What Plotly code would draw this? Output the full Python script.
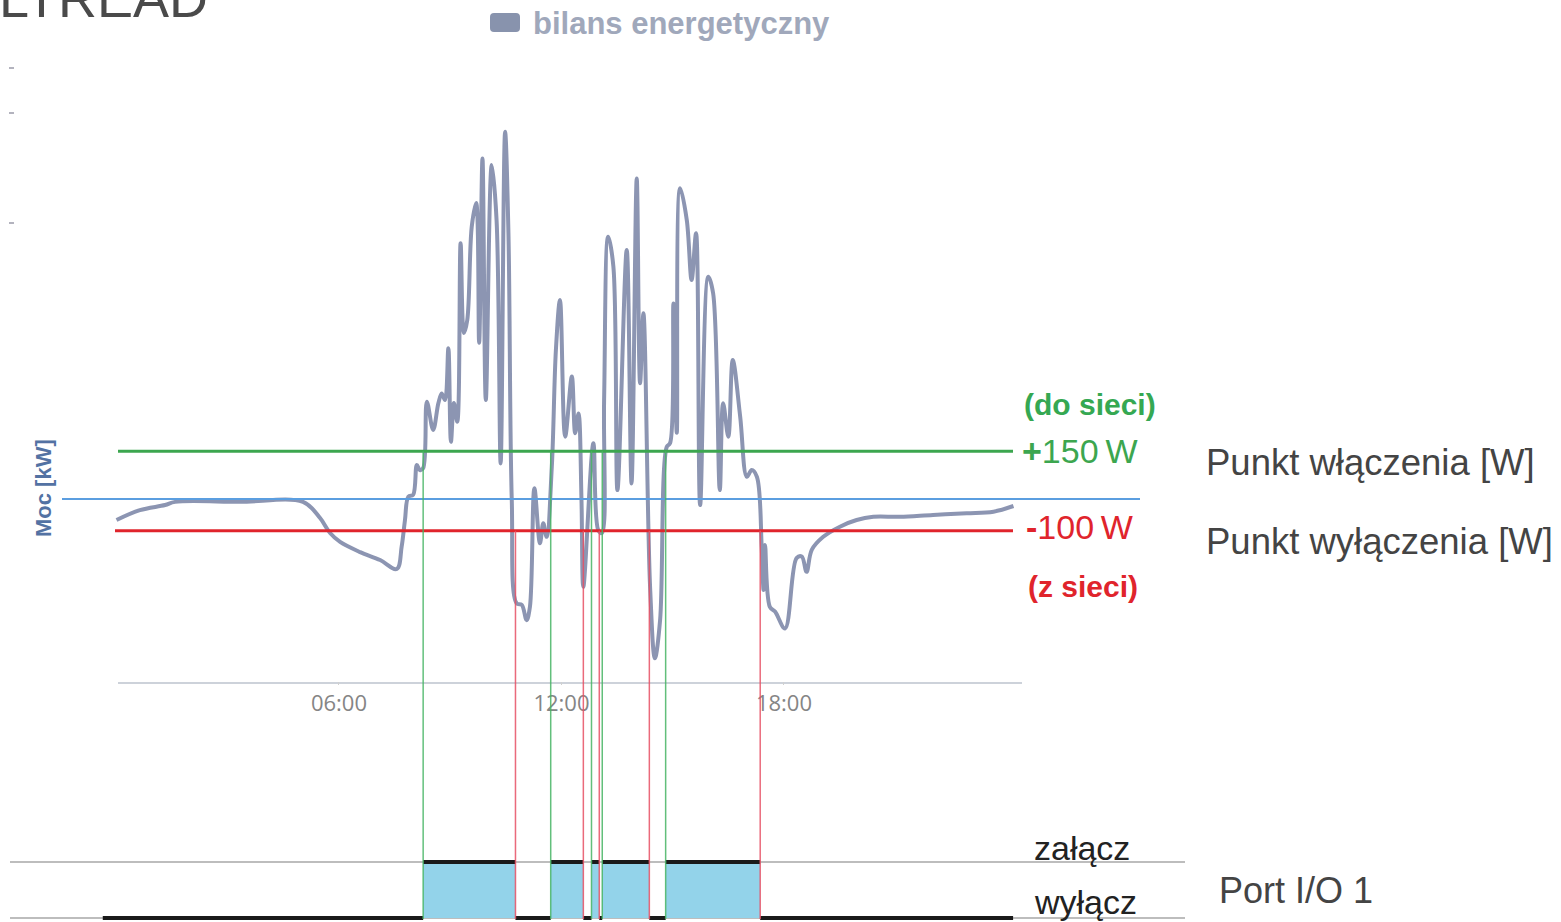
import plotly.graph_objects as go

# ---------------- data ----------------
hours = [0.00, 0.63, 1.31, 1.58, 3.33, 5.03, 5.49, 5.76, 6.03, 6.57,
         7.11, 7.56, 7.69, 7.78, 7.87, 8.00, 8.10, 8.18, 8.27, 8.37,
         8.54, 8.68, 8.77, 8.86, 8.95, 9.02, 9.10, 9.19, 9.28, 9.37,
         9.46, 9.58, 9.70, 9.78, 9.87, 9.96, 10.12, 10.25, 10.36, 10.48,
         10.57, 10.66, 10.79, 10.93, 11.06, 11.15, 11.27, 11.42, 11.51, 11.60,
         11.74, 11.85, 11.96, 12.10, 12.28, 12.37, 12.46, 12.54, 12.59, 12.86,
         12.99, 13.09, 13.15, 13.26, 13.40, 13.51, 13.76, 13.89, 14.03, 14.12,
         14.21, 14.39, 14.52, 14.66, 14.84, 14.93, 15.02, 15.11, 15.20, 15.38,
         15.51, 15.63, 15.74, 15.96, 16.09, 16.27, 16.36, 16.50, 16.62, 16.82,
         17.00, 17.13, 17.27, 17.40, 17.45, 17.49, 17.62, 17.76, 18.03, 18.34,
         18.48, 18.61, 18.75, 19.06, 19.51, 19.96, 20.41, 21.13, 22.02, 22.93,
         23.65, 24.19]
power_kw = [-0.066, -0.035, -0.019, -0.009, -0.009, -0.009, -0.060, -0.107, -0.135, -0.167,
            -0.192, -0.220, -0.150, -0.066, 0.007, 0.013, 0.107, 0.091, 0.097, 0.306,
            0.217, 0.301, 0.332, 0.311, 0.474, 0.180, 0.302, 0.243, 0.804, 0.522,
            0.563, 0.856, 0.931, 0.491, 1.071, 0.311, 1.050, 0.877, 0.112, 1.155,
            0.836, -0.003, -0.328, -0.333, -0.381, -0.339, 0.034, -0.139, -0.076, -0.119,
            0.102, 0.469, 0.626, 0.196, 0.385, 0.207, 0.269, -0.003, -0.276, 0.175,
            -0.097, -0.107, 0.311, 0.825, 0.731, 0.028, 0.783, 0.049, 1.008, 0.364,
            0.584, -0.276, -0.501, -0.381, 0.164, 0.176, 0.615, 0.208, 0.977, 0.877,
            0.689, 0.836, -0.019, 0.699, 0.647, 0.028, 0.301, 0.196, 0.437, 0.259,
            0.070, 0.091, 0.070, -0.150, -0.286, -0.145, -0.339, -0.354, -0.407, -0.186,
            -0.181, -0.229, -0.160, -0.119, -0.087, -0.066, -0.056, -0.056, -0.050, -0.045,
            -0.040, -0.022]
switch_on_h = [8.27, 11.71, 12.81, 13.10, 14.81]
switch_off_h = [10.76, 12.59, 13.02, 14.37, 17.36]
port_start_h = -0.37
port_end_h = 24.18
on_threshold_kw = 0.15
off_threshold_kw = -0.10
tick_hours = [6, 12, 18]
tick_labels = ["06:00", "12:00", "18:00"]

# ---------------- geometry (pixel mapping) ----------------
W, H = 1561, 922
X0, PXH = 116.5, 37.08        # pixel of 0 h, pixels per hour
Y0, PXKW = 499.0, 318.0       # pixel of 0 kW, pixels per kW
S0, S1 = 918.0, 862.0         # pixel of port state 0 / 1


def hx(p):
    return (p - X0) / PXH


def kw(p):
    return (Y0 - p) / PXKW


def st(p):
    return (S0 - p) / (S0 - S1)


def fx(p):
    return p / W


def fy(p):
    return 1 - p / H


fig = go.Figure()

# port state fill
sx, sy = [port_start_h], [0]
for on, off in zip(switch_on_h, switch_off_h):
    sx += [on, off]
    sy += [1, 0]
sx.append(port_end_h)
sy.append(0)
fig.add_trace(go.Scatter(x=sx, y=sy, yaxis="y2", mode="lines",
                         line=dict(width=0, shape="hv", color="#93d3ea"),
                         fill="tozeroy", fillcolor="#93d3ea",
                         hoverinfo="skip", showlegend=False))

# black state segments
bx, by = [], []
bx += [port_start_h, switch_on_h[0], None]
by += [0, 0, None]
for i, (on, off) in enumerate(zip(switch_on_h, switch_off_h)):
    bx += [on, off, None]
    by += [1, 1, None]
    nxt = switch_on_h[i + 1] if i + 1 < len(switch_on_h) else port_end_h
    bx += [off, nxt, None]
    by += [0, 0, None]
fig.add_trace(go.Scatter(x=bx, y=by, yaxis="y2", mode="lines",
                         line=dict(width=4, color="#1a1a1a"),
                         hoverinfo="skip", showlegend=False))

# energy balance line
fig.add_trace(go.Scatter(x=hours, y=power_kw, mode="lines", name="bilans energetyczny",
                         line=dict(color="#8c95b2", width=4, shape="spline", smoothing=1.0),
                         showlegend=False))

shapes = []
# grey port level lines
for lvl in (1, 0):
    shapes.append(dict(type="line", xref="x", yref="y2", x0=hx(10), x1=hx(1185),
                       y0=lvl, y1=lvl, line=dict(color="#bdbdbd", width=2), layer="below"))
# axis baseline
shapes.append(dict(type="line", xref="x", yref="y", x0=hx(118), x1=hx(1022),
                   y0=kw(683), y1=kw(683), line=dict(color="#cdd2da", width=2), layer="below"))
# thresholds
shapes.append(dict(type="line", xref="x", yref="y", x0=hx(62), x1=hx(1140),
                   y0=0, y1=0, line=dict(color="#5b9ee0", width=2)))
shapes.append(dict(type="line", xref="x", yref="y", x0=hx(118), x1=hx(1013),
                   y0=on_threshold_kw, y1=on_threshold_kw, line=dict(color="#3ca64f", width=3)))
shapes.append(dict(type="line", xref="x", yref="y", x0=hx(115), x1=hx(1013),
                   y0=off_threshold_kw, y1=off_threshold_kw, line=dict(color="#e0242c", width=3)))
# switching event verticals
for t in switch_on_h:
    shapes.append(dict(type="line", xref="x", yref="y", x0=t, x1=t,
                       y0=on_threshold_kw, y1=kw(919),
                       line=dict(color="rgba(70,180,100,0.85)", width=1.5)))
for t in switch_off_h:
    shapes.append(dict(type="line", xref="x", yref="y", x0=t, x1=t,
                       y0=off_threshold_kw, y1=kw(919),
                       line=dict(color="rgba(230,80,100,0.85)", width=1.5)))
# faint remnants of left tick marks
for yy in (68, 113, 223):
    shapes.append(dict(type="line", xref="paper", yref="paper", x0=fx(9), x1=fx(14),
                       y0=fy(yy), y1=fy(yy), line=dict(color="#9a9aa8", width=1.5)))


# rounded legend swatch
def rrect(x0, y0, x1, y1, r):
    pts = [("M", x0 + r, y0), ("L", x1 - r, y0), ("Q", x1, y0, x1, y0 + r),
           ("L", x1, y1 - r), ("Q", x1, y1, x1 - r, y1), ("L", x0 + r, y1),
           ("Q", x0, y1, x0, y1 - r), ("L", x0, y0 + r), ("Q", x0, y0, x0 + r, y0)]
    s = ""
    for p in pts:
        cmd = p[0]
        coords = p[1:]
        parts = []
        for i in range(0, len(coords), 2):
            parts.append(f"{fx(coords[i]):.5f},{fy(coords[i + 1]):.5f}")
        s += cmd + " " + " ".join(parts) + " "
    return s + "Z"


shapes.append(dict(type="path", xref="paper", yref="paper", path=rrect(490, 13, 520, 32, 4),
                   fillcolor="#8893ad", line=dict(width=0)))

ann = []


def text(t, x, y, size, color, anchor="left", bold=False, family="Liberation Sans", angle=0):
    ann.append(dict(text=("<b>%s</b>" % t) if bold else t, x=fx(x), y=fy(y), xref="paper", yref="paper",
                    xanchor=anchor, yanchor="middle", showarrow=False, textangle=angle,
                    font=dict(family=family, size=size, color=color)))


text("LTREAD", -3, -2, 54, "#4a4a4a")
text("bilans energetyczny", 531, 24, 31, "#a0a8bb", bold=True)
text("Moc [kW]", 43, 488, 22, "#5372a3", anchor="center", bold=True, angle=-90)
text("(do sieci)", 1090, 404, 30, "#35a852", anchor="center", bold=True)
text("<b>+</b>150\u2009W", 1020, 451, 34, "#3ca64f")
text("<b>-</b>100\u2009W", 1024, 527, 34, "#e0242c")
text("(z sieci)", 1083, 586, 30, "#e0242c", anchor="center", bold=True)
text("Punkt włączenia [W]", 1204, 462, 36.5, "#444444")
text("Punkt wyłączenia [W]", 1204, 541, 36.5, "#444444")
text("załącz", 1032, 848, 34, "#222222")
text("wyłącz", 1032, 902, 34, "#222222")
text("Port I/O 1", 1217, 890, 36, "#444444")

fig.update_layout(
    width=W, height=H,
    margin=dict(l=0, r=0, t=0, b=0),
    paper_bgcolor="white", plot_bgcolor="white",
    showlegend=False,
    shapes=shapes, annotations=ann,
    xaxis=dict(domain=[0, 1], range=[hx(0), hx(W)], tickvals=tick_hours, ticktext=tick_labels,
               anchor="free", position=fy(681), showline=False, showgrid=False, zeroline=False,
               ticks="outside", ticklen=3, tickcolor="#d0d0d0", tickwidth=1,
               tickfont=dict(family="Open Sans", size=22, color="#858585"), fixedrange=True),
    yaxis=dict(domain=[0, 1], range=[kw(H), kw(0)], visible=False, fixedrange=True),
    yaxis2=dict(domain=[0, 1], range=[st(H), st(0)], overlaying="y", visible=False, fixedrange=True),
)

fig.write_html("out.html", config={"displayModeBar": False},
               post_script="document.body.style.margin='0';document.body.style.overflow='hidden';")
